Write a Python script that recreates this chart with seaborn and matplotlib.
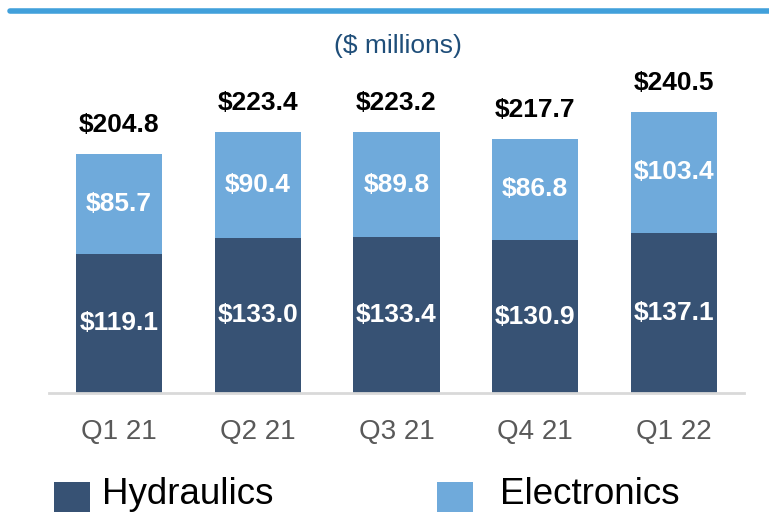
import matplotlib
matplotlib.use("Agg")
import matplotlib.pyplot as plt
from matplotlib.patches import Rectangle
from matplotlib.lines import Line2D
import seaborn as sns
import pandas as pd

quarters = ["Q1 21", "Q2 21", "Q3 21", "Q4 21", "Q1 22"]
hydraulics = [119.1, 133.0, 133.4, 130.9, 137.1]
electronics = [85.7, 90.4, 89.8, 86.8, 103.4]
totals = [204.8, 223.4, 223.2, 217.7, 240.5]

DARK = "#375274"
LIGHT = "#6FAADB"

sns.set_theme(style="white")
plt.rcParams["font.family"] = ["Liberation Sans", "DejaVu Sans"]

df = pd.DataFrame({"quarter": quarters, "hyd": hydraulics, "ele": electronics,
                   "total": [h + e for h, e in zip(hydraulics, electronics)]})

fig = plt.figure(figsize=(7.69, 5.16), dpi=100)
ax = fig.add_axes([49 / 769, 123 / 516, 695 / 769, (393 - 60) / 516])

sns.barplot(data=df, x="quarter", y="total", color=LIGHT, width=0.62,
            saturation=1, ax=ax, linewidth=0)
sns.barplot(data=df, x="quarter", y="hyd", color=DARK, width=0.62,
            saturation=1, ax=ax, linewidth=0)

ppu = 1.168
ax.set_xlim(-0.505, 4.505)
ax.set_ylim(0, (393 - 60) / ppu)

for i in range(len(quarters)):
    h, e, t = hydraulics[i], electronics[i], totals[i]
    ax.text(i, h / 2, f"${h:.1f}", ha="center", va="center", color="white",
            fontsize=19, fontweight="bold")
    ax.text(i, h + e / 2, f"${e:.1f}", ha="center", va="center", color="white",
            fontsize=19, fontweight="bold")
    ax.annotate(f"${t:.1f}", (i, h + e), xytext=(0, 21), textcoords="offset points",
                ha="center", va="center", color="black", fontsize=19, fontweight="bold")

ax.set_xlabel("")
ax.set_ylabel("")
ax.set_yticks([])
for s in ["top", "right", "left"]:
    ax.spines[s].set_visible(False)
ax.spines["bottom"].set_color("#D9D9D9")
ax.spines["bottom"].set_linewidth(2)
ax.tick_params(axis="x", length=0, pad=19, labelsize=20, labelcolor="#595959")

# top rule
fig.add_artist(Line2D([10 / 769, 1.0], [1 - 11 / 516, 1 - 11 / 516],
                      color="#41A0DB", linewidth=4, transform=fig.transFigure))
fig.text(398 / 769, 1 - 46 / 516, "($ millions)", ha="center", va="center",
         fontsize=19, color="#1F4E79")

# legend
for x0, col, lab, tx in [(54, DARK, "Hydraulics", 102), (437, LIGHT, "Electronics", 500)]:
    fig.add_artist(Rectangle((x0 / 769, 1 - 512 / 516), 36 / 769, 30 / 516,
                             transform=fig.transFigure, color=col, linewidth=0))
    fig.text(tx / 769, 1 - 495 / 516, lab, ha="left", va="center",
             fontsize=26.5, color="black")

fig.savefig("out.png", dpi=100)
